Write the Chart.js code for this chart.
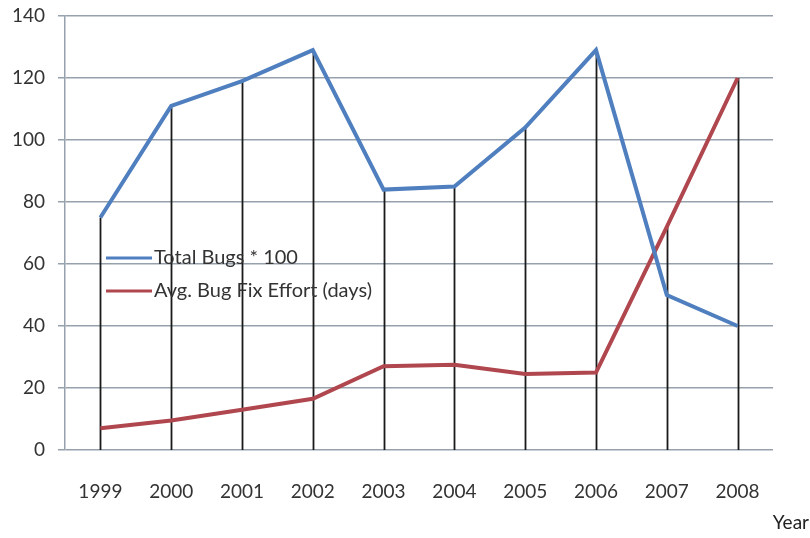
<!DOCTYPE html>
<html>
<head>
<meta charset="utf-8">
<title>Bugs and fix effort by year</title>
<script src="https://cdn.jsdelivr.net/npm/chart.js@4/dist/chart.umd.min.js"></script>
<style>
  html, body { margin: 0; padding: 0; background: #fff; }
  #wrap { width: 810px; height: 538px; position: relative; }
</style>
</head>
<body>
<div id="wrap"><canvas id="bugChart"></canvas></div>
<script>
const years = ['1999', '2000', '2001', '2002', '2003', '2004', '2005', '2006', '2007', '2008'];
const totalBugs = [75, 111, 119, 129, 84, 85, 104, 129, 50, 40];
const fixEffort = [7, 9.5, 13, 16.5, 27, 27.5, 24.5, 25, 72, 120];
const seriesNames = ['Total Bugs * 100', 'Avg. Bug Fix Effort (days)'];
const seriesColors = ['#4f7fbf', '#b0474f'];
const xTitle = 'Year';

const font = 'Lato, "Open Sans", sans-serif';
const gridColor = '#97a0ad';

// black drop lines from the higher point of each year down to zero
const dropLines = {
  id: 'dropLines',
  beforeDatasetsDraw(chart) {
    const { ctx, scales: { x, y } } = chart;
    ctx.save();
    ctx.strokeStyle = '#1a1a1a';
    ctx.lineWidth = 1.8;
    years.forEach((yr, i) => {
      const top = Math.max(...chart.data.datasets.map(d => d.data[i]));
      const px = Math.round(x.getPixelForValue(i)) + 0.5;
      ctx.beginPath();
      ctx.moveTo(px, y.getPixelForValue(top));
      ctx.lineTo(px, y.getPixelForValue(0));
      ctx.stroke();
    });
    ctx.restore();
  }
};

// legend sits inside the plot, plus the axis title at the bottom right
const innerLegend = {
  id: 'innerLegend',
  afterDatasetsDraw(chart) {
    const { ctx } = chart;
    ctx.save();
    ctx.font = '20px ' + font;
    ctx.textBaseline = 'middle';
    chart.data.datasets.forEach((ds, i) => {
      const ly = 258 + i * 33;
      ctx.strokeStyle = ds.borderColor;
      ctx.lineWidth = 3;
      ctx.beginPath();
      ctx.moveTo(106, ly);
      ctx.lineTo(152, ly);
      ctx.stroke();
      ctx.fillStyle = '#333';
      ctx.fillText(ds.label, 154, ly);
    });
    ctx.fillStyle = '#222';
    ctx.font = '19px ' + font;
    ctx.textAlign = 'right';
    ctx.fillText(xTitle, 809, 523);
    ctx.restore();
  }
};

new Chart(document.getElementById('bugChart'), {
  type: 'line',
  data: {
    labels: years,
    datasets: [
      { label: seriesNames[0], data: totalBugs, borderColor: seriesColors[0] },
      { label: seriesNames[1], data: fixEffort, borderColor: seriesColors[1] }
    ]
  },
  options: {
    responsive: true,
    maintainAspectRatio: false,
    animation: false,
    layout: { padding: { top: 16, right: 37, left: 0, bottom: 0 } },
    elements: {
      line: { borderWidth: 4, tension: 0, borderJoinStyle: 'miter' },
      point: { radius: 0, hoverRadius: 0 }
    },
    plugins: {
      legend: { display: false },
      tooltip: { enabled: false }
    },
    scales: {
      x: {
        offset: true,
        grid: { display: false, drawTicks: false },
        border: { display: false },
        ticks: {
          padding: 30,
          color: '#333',
          font: { family: font, size: 19 },
          maxRotation: 0
        },
        afterFit(scale) { scale.height = 88; }
      },
      y: {
        min: 0,
        max: 140,
        grid: { color: gridColor, lineWidth: 1.5, tickLength: 7 },
        border: { color: gridColor, width: 1.5 },
        ticks: {
          stepSize: 20,
          padding: 13,
          color: '#333',
          font: { family: font, size: 19 }
        },
        afterFit(scale) {
          scale.width = 65;
          scale.paddingTop = 0;
          scale.paddingBottom = 0;
        }
      }
    }
  },
  plugins: [dropLines, innerLegend]
});
</script>
</body>
</html>
